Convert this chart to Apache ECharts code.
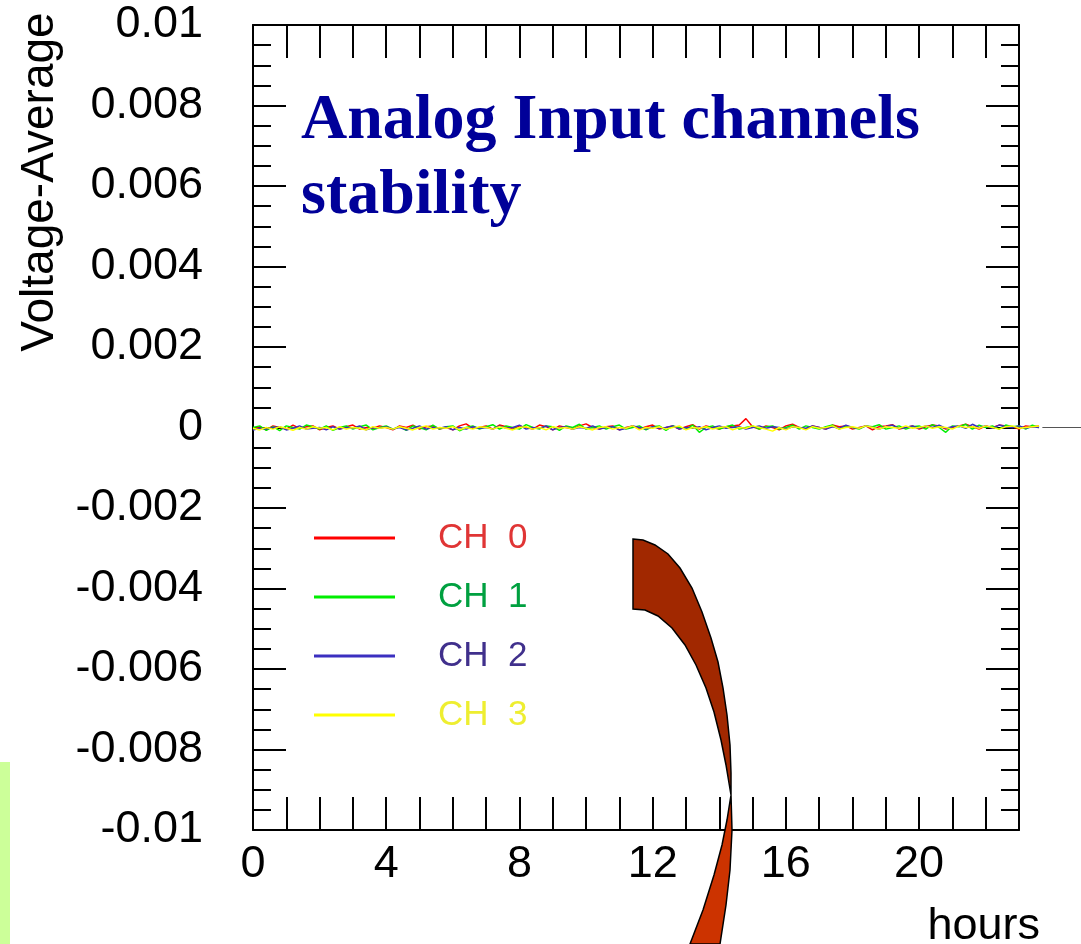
<!DOCTYPE html>
<html>
<head>
<meta charset="utf-8">
<script src="https://cdn.jsdelivr.net/npm/echarts@6/dist/echarts.min.js"></script>
<style>
  html, body { margin: 0; padding: 0; background: #ffffff; }
  #chart { width: 1081px; height: 944px; }
</style>
</head>
<body>
<div id="chart"></div>
<script>
// ---- Data (values in units of 1e-5 V, sampled every 0.2 hours) ----
const seriesNames = ['CH  0', 'CH  1', 'CH  2', 'CH  3'];
const sampleStepHours = 0.2;
const valueUnit = 1e-5;

const ch0 = [
  -4,2,-6,4,0,-4,6,-2,2,4,-6,0,4,-4,2,6,-4,0,-2,4,
  0,-6,4,0,6,-4,2,4,-4,0,-6,4,9,-2,0,4,-4,6,2,-4,
  4,0,-4,6,2,-6,4,0,-4,4,9,0,-4,2,4,-6,0,4,-4,2,
  6,-4,0,4,-4,2,7,-4,4,0,-4,2,4,6,22,2,-4,4,0,-6,
  4,8,0,-4,4,0,-4,6,2,4,-4,0,4,-6,2,4,7,-4,0,4,
  -4,2,6,4,-4,0,4,8,2,-4,4,0,6,4,2,-4,4,2,4
];
const ch1 = [
  0,4,-7,2,-8,4,0,-4,6,2,-4,4,-7,0,4,-4,2,6,-6,0,
  4,-4,2,-7,4,0,-6,6,-4,2,4,-8,0,4,-4,2,7,-4,4,0,
  -4,7,0,-4,4,2,-7,4,0,8,-4,0,4,-4,2,6,-4,0,4,-6,
  2,4,-7,4,0,-4,6,-12,0,4,-4,2,6,-4,0,4,-4,2,4,-4,
  0,6,-4,4,0,-4,2,6,-4,4,0,-4,4,2,7,-4,0,4,-4,2,
  4,-4,7,0,-12,4,2,8,-4,6,0,4,-4,6,2,4,-4,6,0
];
const ch2 = [
  -6,-2,-4,0,2,-6,-2,4,-4,-2,0,-6,2,-4,0,-2,4,-6,0,-2,
  2,-4,0,-6,-2,4,-4,0,-2,2,-6,0,-4,2,-2,0,-4,4,-2,0,
  6,-4,0,-2,4,-6,0,2,-4,0,-2,4,-4,0,2,-6,-2,4,0,-4,
  2,-2,0,4,-4,0,-2,2,-6,0,4,-2,0,2,-4,0,4,-2,2,0,
  -4,2,0,-2,4,0,-4,2,-2,6,0,-2,4,0,-4,2,6,-2,0,4,
  -2,4,0,6,-2,2,4,-2,8,0,4,-2,6,2,0,4,-2,2,0
];
const ch3 = [
  -2,-6,0,-4,2,-2,-7,0,-4,2,-2,0,-6,2,-4,0,-2,-6,2,-2,
  0,-4,2,-2,-6,0,4,-4,0,-2,2,-6,0,-4,2,0,-4,2,-2,-6,
  0,2,-4,0,-6,2,-2,0,-4,2,-2,-6,0,2,-4,0,-2,4,-6,0,
  -2,2,-4,0,4,-6,0,-2,2,-4,0,2,-6,0,-2,4,0,-4,-9,0,
  -6,2,0,-6,2,-2,0,4,-4,0,2,-2,4,0,-4,2,0,-2,4,-2,
  0,4,-2,2,0,-4,4,0,2,-2,4,0,-4,2,4,-2,0,2,4
];
const channelValues = [ch0, ch1, ch2, ch3];

// trailing reference line beyond the data (hours, volts)
const tailLine = [[23.7, 0], [24.86, 0]];

// axis settings
const xMin = 0, xMax = 23, xTickStep = 1, xLabelEvery = 4;
const xMaxWide = 24.86; // same hours scale, extended to the page edge
const yMin = -0.01, yMax = 0.01, yTickStep = 0.002;

const lineColors = ['#ff0000', '#00ee00', '#3b2fc0', '#ffff00'];
const legendTextColors = ['#e03535', '#00a040', '#40308c', '#eeee30'];

const chart = echarts.init(document.getElementById('chart'), null, { renderer: 'canvas' });

const series = channelValues.map((vals, k) => ({
  name: seriesNames[k],
  type: 'line',
  xAxisIndex: 2,
  yAxisIndex: 2,
  data: vals.map((v, i) => [i * sampleStepHours, v * valueUnit]),
  showSymbol: false,
  symbol: 'none',
  clip: false,
  lineStyle: { color: lineColors[k], width: 1.5 },
  itemStyle: { color: lineColors[k] },
  emphasis: { disabled: true },
  animation: false,
  z: 3
}));
series.push({
  name: 'tail',
  type: 'line',
  xAxisIndex: 2,
  yAxisIndex: 2,
  data: tailLine,
  showSymbol: false,
  symbol: 'none',
  clip: false,
  lineStyle: { color: '#555555', width: 1 },
  emphasis: { disabled: true },
  animation: false,
  z: 2
});

const axisFont = 'Liberation Sans, Arial, sans-serif';
const axisLineStyle = { color: '#000', width: 2 };

const option = {
  backgroundColor: '#ffffff',
  animation: false,
  title: {
    text: 'Analog Input channels\nstability',
    left: 301,
    top: 84,
    padding: 0,
    textStyle: {
      fontFamily: 'Liberation Serif, Times New Roman, serif',
      fontWeight: 'bold',
      fontSize: 64,
      lineHeight: 75,
      color: '#000099'
    }
  },
  legend: {
    orient: 'vertical',
    left: 314,
    top: 520,
    padding: 0,
    icon: 'rect',
    itemWidth: 81,
    itemHeight: 3,
    itemGap: 23,
    selectedMode: false,
    textStyle: {
      fontFamily: axisFont,
      fontSize: 35,
      lineHeight: 36,
      padding: [0, 0, 0, 38]
    },
    data: seriesNames.map((n, k) => ({ name: n, textStyle: { color: legendTextColors[k] } }))
  },
  grid: [
    { left: 253, right: 62, top: 25, bottom: 114, containLabel: false, outerBoundsMode: 'none' },
    { left: 253, right: 0, top: 25, bottom: 114, containLabel: false, outerBoundsMode: 'none' }
  ],
  xAxis: [
    {
      type: 'value', gridIndex: 0, min: xMin, max: xMax, interval: xTickStep,
      position: 'bottom',
      axisLine: { show: true, onZero: false, lineStyle: axisLineStyle },
      axisTick: { show: true, inside: true, length: 33, lineStyle: { color: '#000', width: 2 } },
      splitLine: { show: false },
      axisLabel: {
        margin: 12,
        fontFamily: axisFont, fontSize: 45, lineHeight: 45, color: '#000',
        formatter: v => (Math.round(v) % xLabelEvery === 0 ? String(Math.round(v)) : '')
      },
      name: 'hours',
      nameLocation: 'end',
      nameGap: 21,
      nameTextStyle: {
        fontFamily: axisFont, fontSize: 45, color: '#000',
        align: 'right', verticalAlign: 'top', padding: [74, 0, 0, 0]
      }
    },
    {
      type: 'value', gridIndex: 0, min: xMin, max: xMax, interval: xTickStep,
      position: 'top',
      axisLine: { show: true, onZero: false, lineStyle: axisLineStyle },
      axisTick: { show: true, inside: true, length: 33, lineStyle: { color: '#000', width: 2 } },
      splitLine: { show: false },
      axisLabel: { show: false }
    },
    {
      type: 'value', gridIndex: 1, min: xMin, max: xMaxWide, show: false
    }
  ],
  yAxis: [
    {
      type: 'value', gridIndex: 0, min: yMin, max: yMax, interval: yTickStep,
      position: 'left',
      axisLine: { show: true, onZero: false, lineStyle: axisLineStyle },
      axisTick: { show: true, inside: true, length: 33, lineStyle: { color: '#000', width: 2 } },
      minorTick: { show: true, splitNumber: 4, length: 18, lineStyle: { color: '#000', width: 2 } },
      splitLine: { show: false },
      minorSplitLine: { show: false },
      axisLabel: {
        margin: 50,
        fontFamily: axisFont, fontSize: 45, color: '#000',
        formatter: v => String(+v.toFixed(3))
      },
      name: 'Voltage-Average',
      nameLocation: 'middle',
      nameGap: 190,
      nameTextStyle: {
        fontFamily: axisFont, fontSize: 46, color: '#000',
        padding: [0, 0, 0, 491]
      }
    },
    {
      type: 'value', gridIndex: 0, min: yMin, max: yMax, interval: yTickStep,
      position: 'right',
      axisLine: { show: true, onZero: false, lineStyle: axisLineStyle },
      axisTick: { show: true, inside: true, length: 33, lineStyle: { color: '#000', width: 2 } },
      minorTick: { show: true, splitNumber: 4, length: 18, lineStyle: { color: '#000', width: 2 } },
      splitLine: { show: false },
      axisLabel: { show: false }
    },
    {
      type: 'value', gridIndex: 1, min: yMin, max: yMax, show: false
    }
  ],
  graphic: [
    {
      type: 'rect', z: 0, silent: true,
      shape: { x: 0, y: 762, width: 10, height: 182 },
      style: { fill: '#ccff99' }
    },
    {
      type: 'polygon', z: 100, silent: true,
      shape: {
        points: [
          [633, 539], [643, 540], [655, 545], [668, 554], [680, 568], [692, 588],
          [702, 612], [711, 638], [718, 662], [723, 688], [727, 715], [730, 745],
          [731, 773], [731, 795],
          [729, 783], [726, 765], [721, 740], [714, 712], [706, 688], [696, 665],
          [685, 645], [672, 628], [658, 616], [645, 610], [633, 609]
        ]
      },
      style: { fill: '#a12800', stroke: '#000', lineWidth: 1.5 }
    },
    {
      type: 'polygon', z: 100, silent: true,
      shape: {
        points: [
          [731, 795], [732, 830], [730, 870], [726, 905], [720, 944],
          [690, 944], [703, 910], [714, 875], [722, 845], [727, 820]
        ]
      },
      style: { fill: '#cc3300', stroke: '#000', lineWidth: 1.5 }
    }
  ],
  series: series
};

chart.setOption(option);
</script>
</body>
</html>
